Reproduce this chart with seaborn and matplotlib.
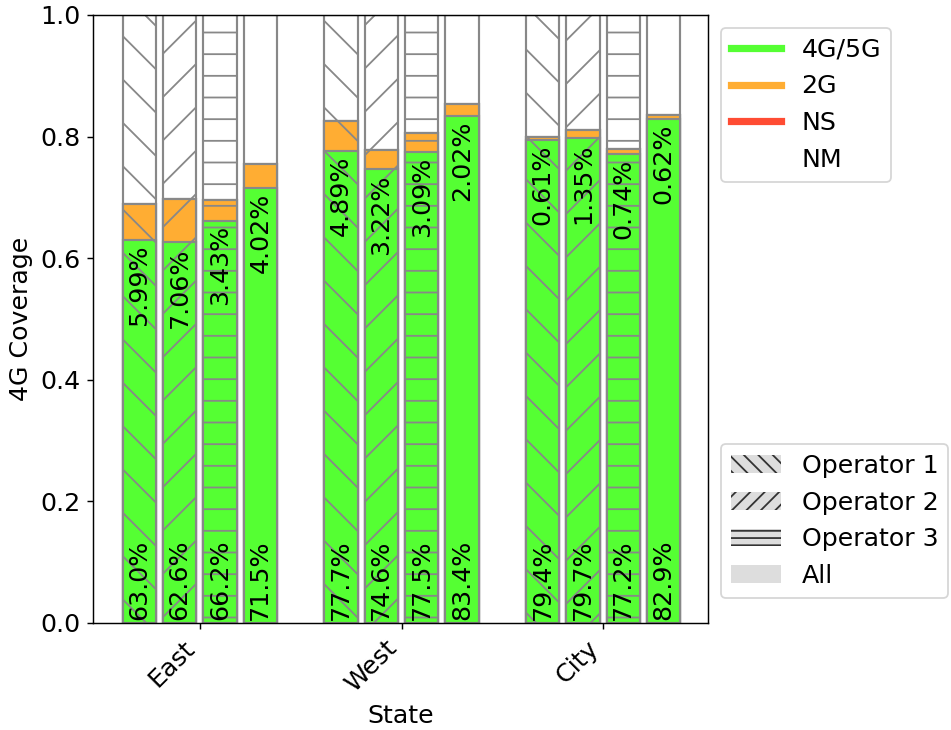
#Stacked coverage bars per state and operator
import numpy as np
import pandas as pd

import matplotlib
matplotlib.use('Agg')
import matplotlib.pyplot as plt
from matplotlib.lines import Line2D
from matplotlib.patches import Patch
import seaborn as sns

plt.rcParams['font.size'] = 14
plt.rcParams['font.family'] = ['DejaVu Sans']

states = ['East', 'West', 'City']
operators = ['Operator 1', 'Operator 2', 'Operator 3', 'All']

# percent of measurements, one row per state, one column per operator
cov_4g = [[63.0, 62.6, 66.2, 71.5],
          [77.7, 74.6, 77.5, 83.4],
          [79.4, 79.7, 77.2, 82.9]]
cov_2g = [[5.99, 7.06, 3.43, 4.02],
          [4.89, 3.22, 3.09, 2.02],
          [0.61, 1.35, 0.74, 0.62]]
cov_ns = [[0.0, 0.0, 0.0, 0.0],
          [0.0, 0.0, 0.0, 0.0],
          [0.0, 0.0, 0.0, 0.0]]

green = '#55ff33'
orange = '#ffad33'
red = '#ff4c33'
edge = '#888888'
hatches = {'Operator 1': '\\', 'Operator 2': '/', 'Operator 3': '-', 'All': ''}

rows = []
for i, s in enumerate(states):
    for j, op in enumerate(operators):
        g = cov_4g[i][j] / 100
        t2 = cov_2g[i][j] / 100
        ns = cov_ns[i][j] / 100
        rows.append({'State': s, 'Operator': op,
                     'top_green': g, 'top_2g': g + t2,
                     'top_ns': g + t2 + ns, 'top_nm': 1.0})
df = pd.DataFrame(rows)

fig = plt.figure(figsize=(951 / 130, 730 / 130), dpi=130)
ax = fig.add_axes([93 / 951, 1 - 623 / 730, (708 - 93) / 951, (623 - 15) / 730])

# draw tallest layer first, each lower layer covers the one before
layers = [('top_nm', 'white'), ('top_ns', red), ('top_2g', orange), ('top_green', green)]
for col, c in layers:
    n_before = len(ax.patches)
    sns.barplot(data=df, x='State', y=col, hue='Operator', order=states,
                hue_order=operators, palette={o: c for o in operators},
                saturation=1, errorbar=None, dodge=True, gap=0.18,
                edgecolor=edge, linewidth=1.2, legend=False, ax=ax)
green_patches = ax.patches[n_before:]

for p in ax.patches:
    cx = p.get_x() + p.get_width() / 2
    j = int(round((cx - round(cx)) / 0.2 + 1.5))
    p.set_hatch(hatches[operators[j]])

for p in green_patches:
    if p.get_height() <= 0:
        continue
    cx = p.get_x() + p.get_width() / 2
    i = int(round(cx))
    j = int(round((cx - i) / 0.2 + 1.5))
    ax.text(cx, 0.005, f"{cov_4g[i][j]:.1f}%", rotation=90, ha='center', va='bottom', fontsize=14)
    ax.text(cx, cov_4g[i][j] / 100 - 0.008, f"{cov_2g[i][j]:.2f}%", rotation=90, ha='center', va='top', fontsize=14)

ax.set_xlim(-0.53, 2.52)
ax.set_ylim(0, 1)
ax.set_xticks(range(len(states)))
ax.set_xticklabels(states, rotation=45, ha='right')
ax.set_xlabel('State')
ax.set_ylabel('4G Coverage')

tech_handles = [Line2D([0], [0], color=green, lw=4),
                Line2D([0], [0], color=orange, lw=4),
                Line2D([0], [0], color=red, lw=4),
                Line2D([0], [0], color='white', lw=4)]
leg1 = ax.legend(tech_handles, ['4G/5G', '2G', 'NS', 'NM'], loc='upper left', bbox_to_anchor=(1.0, 1.0))
ax.add_artist(leg1)

op_handles = [Patch(facecolor='#dddddd', edgecolor='#333333', linewidth=0, hatch='\\\\\\'),
              Patch(facecolor='#dddddd', edgecolor='#333333', linewidth=0, hatch='///'),
              Patch(facecolor='#dddddd', edgecolor='#333333', linewidth=0, hatch='---'),
              Patch(facecolor='#dddddd', edgecolor='#333333', linewidth=0)]
ax.legend(op_handles, operators, loc='lower left', bbox_to_anchor=(1.0, 0.02))

fig.savefig('out.png', dpi=130)
